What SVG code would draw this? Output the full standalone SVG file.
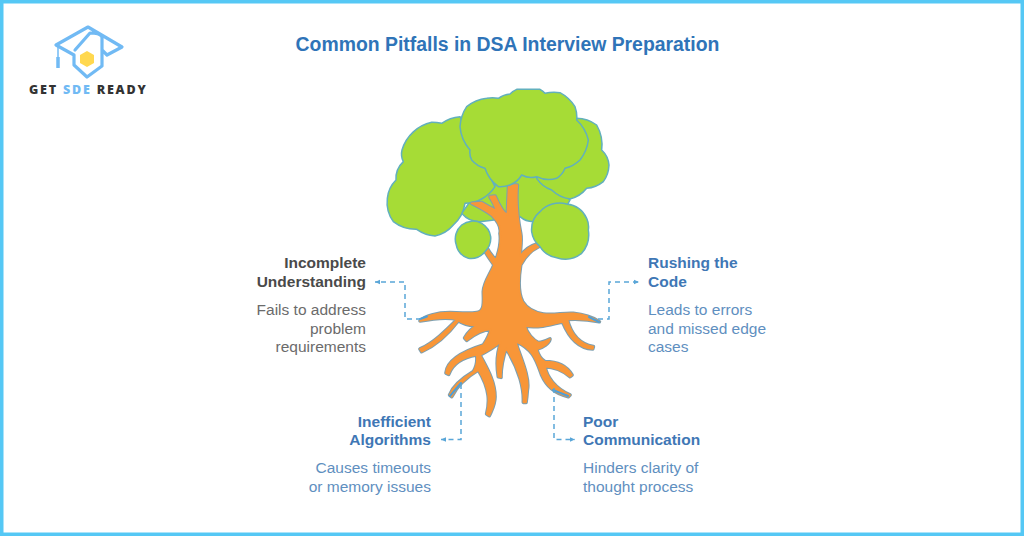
<svg xmlns="http://www.w3.org/2000/svg" width="1024" height="536" viewBox="0 0 1024 536">
<style>
text{font-family:"Liberation Sans",Arial,sans-serif;font-size:15.5px}
.t{font-weight:700}
.end{text-anchor:end}
.blue .t{fill:#3f77b5}
.blue .d{fill:#5f8fc0}
.grey .t{fill:#4a4a4a}
.grey .d{fill:#6b6b6b}
.leaf{fill:#a6dc36;stroke:#62b0bd;stroke-width:4.5;stroke-linejoin:round}
.woodline{fill:#7d9fb0;stroke:#7d9fb0;stroke-width:11;stroke-linejoin:round}
.wood{fill:#f89638;stroke:#f89638;stroke-width:5;stroke-linejoin:round}
.dash{fill:none;stroke:#5aa6d8;stroke-width:1.5;stroke-dasharray:5 4;marker-end:url(#head)}
.tip{fill:none;stroke:#4f9fd6;stroke-width:2;stroke-linecap:round}
.cap{fill:none;stroke:#71baf4;stroke-width:3.2;stroke-linejoin:round;stroke-linecap:round}
</style>
<defs>
<marker id="head" markerWidth="5" markerHeight="5" refX="3.5" refY="2.5" orient="auto"><path d="M0 1L3.500 2.500L0 4Z" fill="#5aa6d8"/></marker>
<path id="roots" d="M416 -195L442 -195C438 -150 440 -110 452 -50C456 -30 452 -10 450 18C465 0 485 -14 500 -18L506 -10C485 0 465 20 452 45C445 90 445 130 458 155C470 175 490 187 520 192C550 197 580 188 610 190C640 193 665 200 688 215C665 210 640 205 592 208C600 240 620 280 670 290L668 297C630 295 600 270 578 216C540 225 500 235 465 228C470 250 490 270 505 278C518 278 530 272 540 267C538 280 520 292 500 298C505 315 515 330 525 335C550 335 585 340 606 375L600 380C580 362 550 350 525 350C530 380 555 415 600 435L595 440C560 432 530 410 515 375C500 335 490 295 437 275C450 320 480 380 472 420C471 435 470 445 468 457L460 457C462 420 450 360 408 295C400 320 392 345 393 382L385 380C380 350 380 310 393 275C375 290 350 305 330 315C345 345 375 390 375 440C375 465 365 480 358 497L350 492C358 460 362 420 325 360C300 375 265 400 245 440L239 435C250 405 285 380 310 365C320 350 322 330 320 315C290 320 250 335 236 373L228 369C230 340 260 310 340 285C350 270 358 255 362 238C340 238 310 255 290 271L284 264C295 245 310 232 325 225C305 228 285 225 265 212C240 245 200 285 155 305L150 297C190 280 230 240 262 208C230 200 190 205 150 213C165 198 200 188 240 188C280 188 310 192 325 187C345 180 340 150 340 125C342 95 360 75 372 45C362 30 350 15 340 -5L350 -8C358 8 368 20 378 30C385 10 395 -20 390 -50C395 -70 380 -90 365 -105C345 -120 325 -130 305 -140L335 -142C350 -133 365 -125 380 -118C375 -135 365 -150 360 -160L375 -162C385 -140 395 -115 412 -105Z"/>
</defs>
<rect width="1024" height="536" fill="#fff"/>
<rect x="1.75" y="1.75" width="1020.5" height="532.5" fill="none" stroke="#55c8f5" stroke-width="3.5"/>

<g id="logo">
<path class="cap" d="M56 45L88 27L122 47L107 55L102 50M56 45L74 55V65L87 77L102 66V37Q100 33 90 33L75 50"/>
<path d="M58 46V64" stroke="#71baf4" stroke-width="1.5" fill="none"/>
<path d="M58 57V68" stroke="#71baf4" stroke-width="3.5" fill="none"/>
<path d="M87 51L94 55V63L87 67L80 63V55Z" fill="#ffd84f"/>
<text x="29" y="94" style="font-family:'Open Sans',sans-serif;font-size:12.5px;font-weight:800;letter-spacing:1.8px" fill="#333"><tspan>GET </tspan><tspan fill="#71baf4">SDE</tspan><tspan> READY</tspan></text>
</g>

<text id="title" x="507.500" y="51" text-anchor="middle" style="font-size:19.400px;font-weight:700" fill="#2f74b8">Common Pitfalls in DSA Interview Preparation</text>

<g id="tree" transform="translate(370 90) scale(.33333)">
<path class="leaf" d="M300 335L275 370A70 70 0 0 0 330 395L450 380A60 60 0 0 0 490 395A110 110 0 0 0 600 330L500 200Z"/>
<path class="leaf" d="M500 265L560 120L620 85A110 110 0 0 1 680 105A120 120 0 0 1 695 180A70 70 0 0 1 717 225A90 90 0 0 1 700 275A90 90 0 0 1 650 295A90 90 0 0 1 600 327A100 100 0 0 1 545 300A90 90 0 0 1 500 265Z"/>
<path class="leaf" d="M52 325A90 90 0 0 1 78 270A70 70 0 0 1 100 215A50 50 0 0 1 96 180A120 120 0 0 1 185 97A140 140 0 0 1 215 100A110 110 0 0 1 270 80L375 290A110 110 0 0 1 285 340A110 110 0 0 1 250 405A100 100 0 0 1 195 438A110 110 0 0 1 140 418A110 110 0 0 1 70 395A100 100 0 0 1 52 325Z"/>
<g transform="translate(0 480)">
<use href="#roots" class="woodline"/>
<use href="#roots" class="wood"/>
</g>
<path class="leaf" d="M270 110A120 120 0 0 1 290 50A120 120 0 0 1 350 25A90 90 0 0 1 385 25A70 70 0 0 1 420 12A60 60 0 0 1 440 -2L510 -2A60 60 0 0 1 525 10A110 110 0 0 1 570 8A120 120 0 0 1 615 50A90 90 0 0 1 620 90A120 120 0 0 1 655 150A120 120 0 0 1 630 210A100 100 0 0 1 585 235A60 60 0 0 1 560 265A80 80 0 0 1 500 260A60 60 0 0 1 455 255A70 70 0 0 1 420 285A80 80 0 0 1 385 290A110 110 0 0 1 345 235A80 80 0 0 1 305 210A50 50 0 0 1 300 180A120 120 0 0 1 270 110Z"/>
<path class="leaf" d="M258 462A55 55 0 0 1 275 405A55 55 0 0 1 335 400A55 55 0 0 1 362 440A55 55 0 0 1 345 485A55 55 0 0 1 295 505A55 55 0 0 1 258 462Z"/>
<path class="leaf" d="M485 425A70 70 0 0 1 510 365A80 80 0 0 1 590 342A75 75 0 0 1 650 385A60 60 0 0 1 655 420A85 85 0 0 1 635 490A80 80 0 0 1 560 503A70 70 0 0 1 510 470A70 70 0 0 1 485 425Z"/>
</g>

<g id="connectors">
<path class="tip" d="M420 319L427 316.500M589 317L599 322M450 396L461 383M553 390L568 396"/>
<path class="dash" d="M421 319H405V282H375"/>
<path class="dash" d="M598 319H609V282H639"/>
<path class="dash" d="M461 384V439.500H441"/>
<path class="dash" d="M554 388V439.500H575"/>
</g>

<g id="node-incomplete" class="grey">
<text class="t end" x="366" y="268">Incomplete</text>
<text class="t end" x="366" y="287">Understanding</text>
<text class="d end" x="366" y="315">Fails to address</text>
<text class="d end" x="366" y="334">problem</text>
<text class="d end" x="366" y="352">requirements</text>
</g>
<g id="node-rushing" class="blue">
<text class="t" x="648" y="268">Rushing the</text>
<text class="t" x="648" y="287">Code</text>
<text class="d" x="648" y="315">Leads to errors</text>
<text class="d" x="648" y="334">and missed edge</text>
<text class="d" x="648" y="352">cases</text>
</g>
<g id="node-inefficient" class="blue">
<text class="t end" x="431" y="427">Inefficient</text>
<text class="t end" x="431" y="445">Algorithms</text>
<text class="d end" x="431" y="473">Causes timeouts</text>
<text class="d end" x="431" y="492">or memory issues</text>
</g>
<g id="node-poor" class="blue">
<text class="t" x="583" y="427">Poor</text>
<text class="t" x="583" y="445">Communication</text>
<text class="d" x="583" y="473">Hinders clarity of</text>
<text class="d" x="583" y="492">thought process</text>
</g>
</svg>
